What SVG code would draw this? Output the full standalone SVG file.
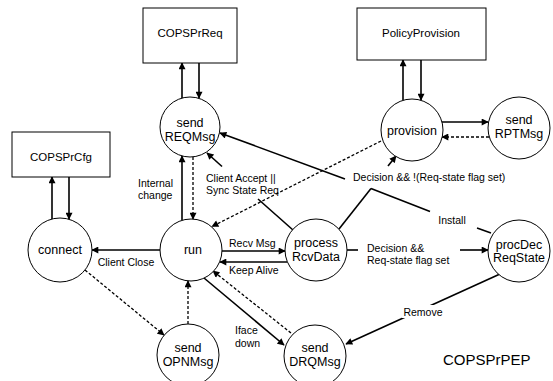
<svg xmlns="http://www.w3.org/2000/svg" width="553" height="381" viewBox="0 0 553 381">
<defs>
<marker id="ah" viewBox="0 0 10 10" refX="9" refY="5" markerWidth="8" markerHeight="7" markerUnits="userSpaceOnUse" orient="auto">
<path d="M0,0 L10,5 L0,10 Z" fill="#000"/>
</marker>
<style>
.node circle{fill:#fff;stroke:#000;stroke-width:1}
.node rect{fill:#fff;stroke:#000;stroke-width:1}
.nt{font-family:"Liberation Sans",Arial,sans-serif;font-size:12.5px;text-anchor:middle;fill:#000}
.bt{font-family:"Liberation Sans",Arial,sans-serif;font-size:11.5px;text-anchor:middle;fill:#000}
.el{font-family:"Liberation Sans",Arial,sans-serif;font-size:10.5px;fill:#000}
.s{fill:none;stroke:#000;stroke-width:1.6}
.sa{fill:none;stroke:#000;stroke-width:1.6;marker-end:url(#ah)}
.d{fill:none;stroke:#000;stroke-width:1.3;stroke-dasharray:3,2;marker-end:url(#ah)}
</style>
</defs>
<rect width="553" height="381" fill="#fff"/>
<g id="connectors">
<line class="sa" x1="182" y1="98" x2="182" y2="63"/>
<line class="sa" x1="199" y1="63" x2="199" y2="98"/>
<line class="sa" x1="403" y1="100" x2="403" y2="60"/>
<line class="sa" x1="421" y1="60" x2="421" y2="100"/>
<line class="sa" x1="52" y1="219" x2="52" y2="177"/>
<line class="sa" x1="69" y1="177" x2="69" y2="219"/>
<line class="sa" x1="182" y1="220" x2="182" y2="156"/>
<line class="d" x1="193" y1="157" x2="193" y2="219"/>
<line class="sa" x1="160" y1="250" x2="92" y2="250"/>
<line class="d" x1="85" y1="270" x2="164" y2="335"/>
<line class="d" x1="188" y1="324" x2="188" y2="281"/>
<line class="sa" x1="222" y1="251" x2="285" y2="251"/>
<line class="sa" x1="287" y1="262" x2="220" y2="262"/>
<line class="sa" x1="204" y1="278" x2="284" y2="345"/>
<line class="d" x1="291" y1="333" x2="213" y2="271"/>
<line class="sa" x1="500" y1="274" x2="346" y2="344"/>
<line class="s" x1="347" y1="250" x2="358" y2="250"/>
<line class="sa" x1="460" y1="250" x2="488" y2="250"/>
<line class="s" x1="339" y1="229" x2="371" y2="188.5"/>
<line class="sa" x1="388" y1="166" x2="396" y2="156"/>
<line class="s" x1="491" y1="233" x2="477" y2="228"/>
<line class="s" x1="430" y1="211.4" x2="371" y2="188.5"/>
<line class="sa" x1="345" y1="178.9" x2="220" y2="133"/>
<line class="s" x1="293" y1="230" x2="258" y2="199"/>
<line class="sa" x1="222" y1="166.5" x2="207" y2="153"/>
<line class="d" x1="381" y1="141" x2="212" y2="226.5"/>
<line class="sa" x1="442" y1="122" x2="488" y2="122"/>
<line class="d" x1="489" y1="137" x2="442" y2="137"/>
</g>
<g id="labels">
<text class="el" x="138" y="187">Internal</text>
<text class="el" x="138" y="199">change</text>
<text class="el" x="126" y="266" text-anchor="middle">Client Close</text>
<text class="el" x="229" y="247">Recv Msg</text>
<text class="el" x="229" y="274">Keep Alive</text>
<text class="el" x="235" y="334">Iface</text>
<text class="el" x="235" y="347">down</text>
<rect x="402" y="305" width="43" height="13" fill="#fff"/>
<text class="el" x="423" y="316" text-anchor="middle">Remove</text>
<text class="el" x="367" y="252">Decision &amp;&amp;</text>
<text class="el" x="367" y="264">Req-state flag set</text>
<text class="el" x="353" y="181">Decision &amp;&amp; !(Req-state flag set)</text>
<text class="el" x="452" y="224" text-anchor="middle">Install</text>
<text class="el" x="206" y="182">Client Accept ||</text>
<text class="el" x="206" y="194">Sync State Req</text>
<text x="443" y="365" font-family="'Liberation Sans',Arial,sans-serif" font-size="15">COPSPrPEP</text>
</g>
<g id="COPSPrReq" class="node"><rect x="143" y="8" width="94" height="55"/><text class="bt" x="190" y="37">COPSPrReq</text></g>
<g id="PolicyProvision" class="node"><rect x="357" y="8" width="129" height="52"/><text class="bt" x="421" y="37">PolicyProvision</text></g>
<g id="COPSPrCfg" class="node"><rect x="12" y="132" width="98" height="45"/><text class="bt" x="61" y="161">COPSPrCfg</text></g>
<g id="sendREQMsg" class="node"><circle cx="190" cy="127" r="30"/><text class="nt" x="190" y="127">send</text><text class="nt" x="190" y="141">REQMsg</text></g>
<g id="run" class="node"><circle cx="191" cy="250" r="31"/><text class="nt" x="193" y="254">run</text></g>
<g id="connect" class="node"><circle cx="60" cy="250" r="32"/><text class="nt" x="60" y="254">connect</text></g>
<g id="sendOPNMsg" class="node"><circle cx="188" cy="355" r="31"/><text class="nt" x="188" y="352">send</text><text class="nt" x="188" y="366">OPNMsg</text></g>
<g id="sendDRQMsg" class="node"><circle cx="315" cy="356" r="31"/><text class="nt" x="315" y="352">send</text><text class="nt" x="315" y="366">DRQMsg</text></g>
<g id="processRcvData" class="node"><circle cx="316" cy="250" r="31"/><text class="nt" x="316" y="247">process</text><text class="nt" x="316" y="261">RcvData</text></g>
<g id="procDecReqState" class="node"><circle cx="519" cy="251" r="31"/><text class="nt" x="519" y="249">procDec</text><text class="nt" x="519" y="262">ReqState</text></g>
<g id="provision" class="node"><circle cx="412" cy="130" r="31"/><text class="nt" x="412" y="135">provision</text></g>
<g id="sendRPTMsg" class="node"><circle cx="519" cy="128" r="31"/><text class="nt" x="519" y="124">send</text><text class="nt" x="519" y="138">RPTMsg</text></g>
</svg>
